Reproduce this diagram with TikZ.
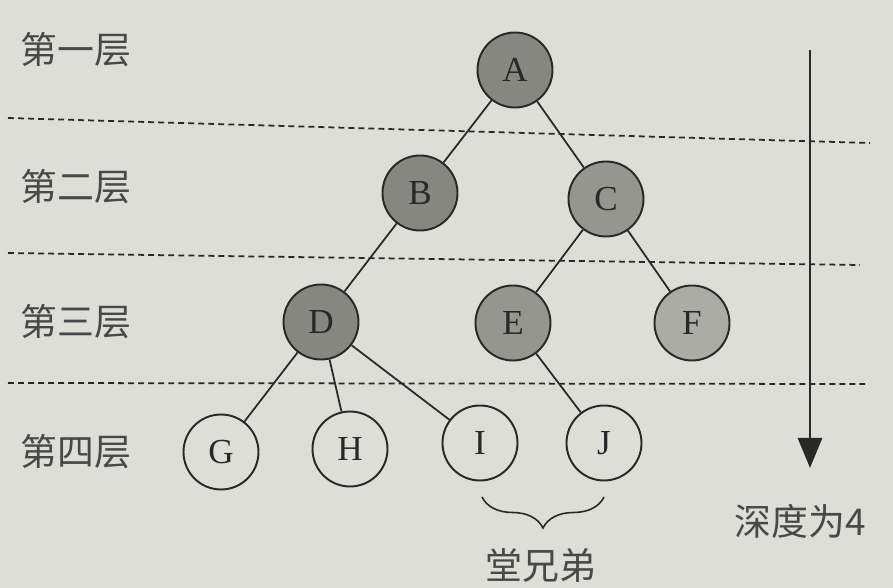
\documentclass[tikz,border=0pt]{standalone}
\usepackage{fontspec}
\setmainfont{Liberation Serif}
\newfontfamily\cjk{Noto Sans CJK SC}
\usetikzlibrary{decorations.pathreplacing,arrows.meta}
\definecolor{paper}{RGB}{221,222,215}
\definecolor{ink}{RGB}{40,40,40}
\definecolor{darkshade}{RGB}{135,135,130}
\definecolor{midshade}{RGB}{150,150,145}
\definecolor{lightshade}{RGB}{172,172,166}
\tikzset{
  treenode/.style={circle,draw=ink,line width=1.1pt,minimum size=1.5cm,inner sep=0pt,
    text=ink,font=\fontsize{20}{20}\selectfont},
  levellabel/.style={text=ink!85,font=\cjk\fontsize{21}{21}\selectfont},
  levelline/.style={draw=ink,line width=1pt,dash pattern=on 3.4pt off 2.3pt},
  treeedge/.style={draw=ink,line width=1pt}
}
\begin{document}
\begin{tikzpicture}
\fill[paper] (0,0) rectangle (17.86,-11.76);
\useasboundingbox (0,0) rectangle (17.86,-11.76);
% levels
\node[levellabel] (lvl1) at (1.52,-1.0) {第一层};
\node[levellabel] (lvl2) at (1.52,-3.74) {第二层};
\node[levellabel] (lvl3) at (1.52,-6.44) {第三层};
\node[levellabel] (lvl4) at (1.52,-9.04) {第四层};
\coordinate (cut1l) at (0.16,-2.36);
\coordinate (cut1r) at (17.4,-2.86);
\coordinate (cut2l) at (0.16,-5.06);
\coordinate (cut2r) at (17.2,-5.3);
\coordinate (cut3l) at (0.16,-7.66);
\coordinate (cut3r) at (17.3,-7.68);
\draw[levelline] (cut1l) -- (cut1r);
\draw[levelline] (cut2l) -- (cut2r);
\draw[levelline] (cut3l) -- (cut3r);
% tree
\node[treenode,fill=darkshade] (nodeA) at (10.3,-1.4) {A};
\node[treenode,fill=darkshade] (nodeB) at (8.4,-3.86) {B};
\node[treenode,fill=midshade] (nodeC) at (12.12,-3.98) {C};
\node[treenode,fill=darkshade] (nodeD) at (6.42,-6.44) {D};
\node[treenode,fill=midshade] (nodeE) at (10.26,-6.46) {E};
\node[treenode,fill=lightshade] (nodeF) at (13.84,-6.46) {F};
\node[treenode] (nodeG) at (4.42,-9.04) {G};
\node[treenode] (nodeH) at (7.0,-8.98) {H};
\node[treenode] (nodeI) at (9.6,-8.86) {I};
\node[treenode] (nodeJ) at (12.08,-8.86) {J};
\draw[treeedge] (nodeA) -- (nodeB);
\draw[treeedge] (nodeA) -- (nodeC);
\draw[treeedge] (nodeB) -- (nodeD);
\draw[treeedge] (nodeC) -- (nodeE);
\draw[treeedge] (nodeC) -- (nodeF);
\draw[treeedge] (nodeD) -- (nodeG);
\draw[treeedge] (nodeD) -- (nodeH);
\draw[treeedge] (nodeD) -- (nodeI);
\draw[treeedge] (nodeE) -- (nodeJ);
% depth arrow
\coordinate (depthtop) at (16.2,-1.0);
\coordinate (depthend) at (16.2,-9.36);
\draw[ink,line width=1.7pt,-{Triangle[length=0.6cm,width=0.48cm]}] (depthtop) -- (depthend);
\node[levellabel] (depth) at (16.0,-10.42) {深度为4};
% cousins
\coordinate (bracel) at (9.64,-9.94);
\coordinate (bracer) at (12.08,-9.94);
\draw[ink,line width=0.9pt,decorate,decoration={brace,mirror,amplitude=0.62cm}] (bracel) -- (bracer);
\node[levellabel] (cousin) at (10.82,-11.3) {堂兄弟};
\end{tikzpicture}
\end{document}
